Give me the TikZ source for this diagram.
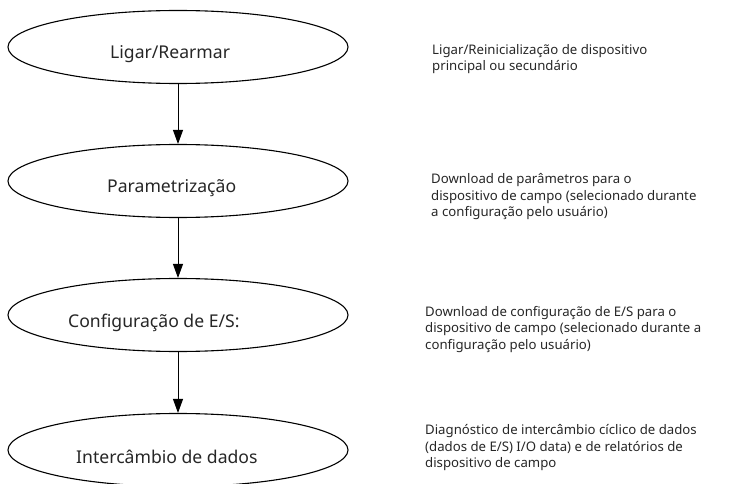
\documentclass[tikz,border=0pt]{standalone}
\usepackage{fontspec}
\setmainfont{Noto Sans}
\usetikzlibrary{shapes.geometric,arrows.meta}
\begin{document}
\begin{tikzpicture}[x=1pt,y=-1pt,
  stage/.style={draw=black,line width=1.1pt,ellipse,minimum width=340pt,minimum height=73pt,inner sep=0pt},
  stagetext/.style={anchor=base west,inner sep=0pt,text=black!85,font=\fontsize{17.6pt}{20pt}\selectfont},
  note/.style={anchor=north west,inner sep=0pt,align=left,text=black!85,font=\fontsize{13.2pt}{16.7pt}\selectfont},
  flow/.style={draw=black,line width=0.9pt,-{Triangle[length=14pt,width=10pt]}}]
\useasboundingbox (0,0) rectangle (734,484);
\node[stage] (e1) at (178,47) {};
\node[stage] (e2) at (178,181) {};
\node[stage] (e3) at (178,315) {};
\node[stage] (e4) at (178,450) {};
\node[stagetext] (t1) at (110,59) {Ligar/Rearmar};
\node[stagetext] (t2) at (107,193) {Parametrização};
\node[stagetext] (t3) at (68,327) {Configuração de E/S:};
\node[stagetext] (t4) at (76,463) {Intercâmbio de dados};
\draw[flow] (e1.south) -- (e2.north);
\draw[flow] (e2.south) -- (e3.north);
\draw[flow] (e3.south) -- (e4.north);
\node[note] (n1) at (432,44) {Ligar/Reinicialização de dispositivo\\principal ou secundário};
\node[note] (n2) at (431,173) {Download de parâmetros para o\\dispositivo de campo (selecionado durante\\a configuração pelo usuário)};
\node[note] (n3) at (425,306) {Download de configuração de E/S para o\\dispositivo de campo (selecionado durante a\\configuração pelo usuário)};
\node[note] (n4) at (425,424) {Diagnóstico de intercâmbio cíclico de dados\\(dados de E/S) I/O data) e de relatórios de\\dispositivo de campo};
\end{tikzpicture}
\end{document}
